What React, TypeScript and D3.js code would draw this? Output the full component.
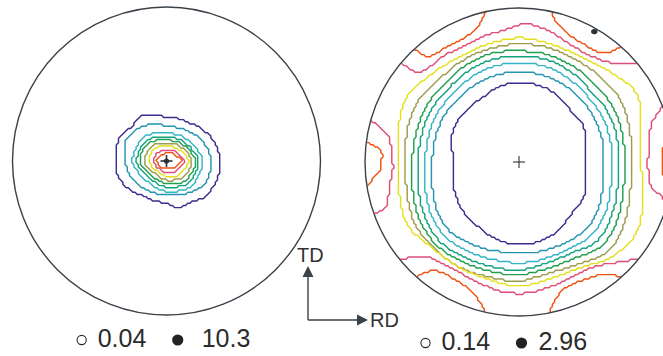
import React from "react";
import * as d3 from "d3";

// Contour level colours, lowest level first
const LEVEL_COLORS = [
  "#3d2b8e", // 1 purple
  "#2494b0", // 2 teal
  "#33b4c6", // 3 cyan
  "#12a27c", // 4 blue-green
  "#1f9f4d", // 5 green
  "#9c9b4e", // 6 olive
  "#e4e01c", // 7 yellow
  "#de4e78", // 8 pink
  "#ee5212", // 9 orange
];

// ---------- Pole figure 1: tilt (deg) of each closed contour at evenly spaced azimuths ----------
const f1Level1 = [31.6, 30.4, 29.2, 27.5, 26, 25.7, 25.4, 28, 30.2, 28.6, 30.4, 30.4, 29.5, 29.8, 28.3, 26, 24.3, 24.3, 24.7, 28.1, 27.8, 30.4, 31, 31.4];
const f1Level2 = [26, 24, 21, 20.7, 24, 26.6, 24, 22.5, 20.2, 19.9, 22.2, 26];
const f1Level3 = [21, 17.5, 16.4, 19.3, 19.9, 16.4, 17.8, 20.5];
const f1Level4 = [18.7, 15.2, 14, 16.4, 17.5, 14, 15.2, 18.1];
const f1Level5 = [16.9, 13.4, 12.3, 14.6, 15.8, 12.3, 13.1, 15.8];
const f1Level6 = [14.6, 11.7, 10.5, 12.3, 12.9, 9.9, 11.1, 13.4];
const f1Level7 = [12.9, 9.9, 8.5, 9.9, 9.9, 8.2, 8.8, 11.1];
const f1Level8 = [10.5, 7.6, 6.4, 7, 7.6, 6.4, 6.4, 8.2];
const f1Level9 = [8.8, 5.8, 4.4, 4.7, 5.8, 4.7, 4.4, 5.8];
const f1Closed = [f1Level1, f1Level2, f1Level3, f1Level4, f1Level5, f1Level6, f1Level7, f1Level8, f1Level9];
const f1Max: [number, number] = [0, 0]; // azimuth, tilt of the maximum
const f1Min = "0.04";
const f1Peak = "10.3";

// ---------- Pole figure 2 ----------
const f2Level1 = [38.6, 40.3, 43.2, 42.7, 45, 46.2, 46.2, 45.6, 43.2, 43.2, 43.2, 40.9, 38, 40.3, 42.1, 43.8, 45, 47.3, 47.9, 47.9, 46.2, 43.2, 43.2, 40.3];
const f2Level2 = [49.7, 50.3, 50.8, 51.4, 52, 52.6, 52.6, 52.6, 52, 51.4, 51.4, 50.8, 50.8, 52.6, 55.5, 57.3, 55.5, 53.8, 53.2, 53.8, 54.3, 55.5, 53.8, 50.8];
const f2Level3 = [54.3, 54.9, 55.5, 55.5, 56.7, 57.9, 57.9, 57.9, 56.7, 55.5, 55.5, 54.9, 54.9, 56.7, 59.6, 61.4, 60.2, 59, 59, 58.4, 58.4, 60.2, 58.4, 55.5];
const f2Level4 = [58.4, 59, 59.6, 59, 60.8, 61.9, 61.9, 61.9, 60.8, 59.6, 59.6, 59, 59, 60.8, 63.7, 65.5, 64.3, 63.1, 63.1, 61.4, 61.4, 64.9, 62.5, 59.6];
const f2Level5 = [61.9, 62.5, 63.7, 63.1, 64.3, 64.9, 64.9, 65.5, 64.3, 63.1, 63.1, 62.5, 62.5, 64.3, 67.2, 68.4, 67.2, 66, 66, 64.3, 64.9, 69, 66.6, 63.1];
const f2Level6 = [66, 67.2, 69.5, 69, 68.4, 69, 69, 68.4, 67.8, 67.2, 69, 67.8, 66.6, 67.8, 70.7, 70.7, 70.7, 69.5, 69.5, 67.2, 69, 73.6, 71.3, 67.2];
const f2Level7 = [71.3, 73.6, 79.5, 74.8, 71.3, 71.3, 72.5, 71.3, 70.7, 72.5, 76, 73, 70.7, 72.5, 74.8, 71.3, 70.7, 70.7, 72.5, 70.7, 71.3, 77.7, 80.1, 74.8];
const f2Closed = [f2Level1, f2Level2, f2Level3, f2Level4, f2Level5, f2Level6, f2Level7];

// Open contour branches ending on the rim: [azimuth deg, tilt deg]
const f2PinkTop = [[140, 91.2], [139.3, 81.5], [136.4, 77.1], [124.5, 76], [116.4, 74.8], [104.8, 76.6], [97, 77.5], [89.6, 80.1], [85.4, 80.9], [76.6, 78.3], [65.6, 74.8], [53.9, 75.4], [45.3, 81.2], [39.5, 91.2]];
const f2PinkLeft = [[164, 91.2], [166.7, 81.5], [170.3, 76.6], [179, 74.4], [182, 73.6], [189.4, 76.4], [194.9, 79], [198.6, 82.4], [200, 91.2]];
const f2PinkRight = [[22, 91.2], [19, 85.3], [17.4, 82.2], [13.7, 78.8], [5.3, 75.9], [-5, 75.9], [-10.5, 78.9], [-13.7, 85.8], [-17, 91.2]];
const f2PinkBottom = [[219, 91.2], [225, 78], [235, 74], [245, 73.5], [255, 75], [265, 76.6], [275, 76.6], [285, 75], [295, 74], [305, 75], [312, 80], [318, 86], [321, 91.2]];
const f2OrangeTopLeft = [[133, 91.2], [130.7, 81.2], [122, 79.5], [112.7, 79.4], [105.7, 84.2], [102, 91.2]];
const f2OrangeTopRight = [[78, 91.2], [75.8, 85.6], [73.1, 82.6], [64.7, 78.9], [52.2, 80.4], [48.4, 91.2]];
const f2OrangeLeft = [[172.5, 91.2], [175, 81.5], [179, 80.2], [183.3, 81.3], [186.4, 85.7], [190, 91.2]];
const f2OrangeRight = [[10, 91.2], [6, 84.7], [0, 83.6], [-5, 84.7], [-9, 91.2]];
const f2OrangeBottomLeft = [[228, 91.2], [231, 81.8], [237.5, 78.3], [249, 80.1], [254, 84.7], [258, 91.2]];
const f2OrangeBottomRight = [[281, 91.2], [285, 83], [291, 78.3], [302.8, 79.9], [308, 83], [312, 91.2]];
const f2Open = [
  { level: 8, pts: f2PinkTop },
  { level: 8, pts: f2PinkLeft },
  { level: 8, pts: f2PinkRight },
  { level: 8, pts: f2PinkBottom },
  { level: 9, pts: f2OrangeTopLeft },
  { level: 9, pts: f2OrangeTopRight },
  { level: 9, pts: f2OrangeLeft },
  { level: 9, pts: f2OrangeRight },
  { level: 9, pts: f2OrangeBottomLeft },
  { level: 9, pts: f2OrangeBottomRight },
];
const f2Max: [number, number] = [60, 88];
const f2Min = "0.14";
const f2Peak = "2.96";

const INK = "#3a4148";
const FONT = "'Liberation Sans', Arial, Helvetica, sans-serif";
const CELL = 2.2; // raster step of the contouring grid (px)

type Pt = [number, number];

// Uniform Catmull-Rom sampling of a polyline (closed or open)
function sampleSpline(pts: Pt[], closed: boolean, steps = 8): Pt[] {
  const n = pts.length;
  const out: Pt[] = [];
  const get = (i: number): Pt => {
    if (closed) return pts[((i % n) + n) % n];
    return pts[Math.max(0, Math.min(n - 1, i))];
  };
  const segs = closed ? n : n - 1;
  for (let i = 0; i < segs; i++) {
    const p0 = get(i - 1), p1 = get(i), p2 = get(i + 1), p3 = get(i + 2);
    for (let k = 0; k < steps; k++) {
      const t = k / steps, t2 = t * t, t3 = t2 * t;
      const f = (a: number, b: number, c: number, d: number) =>
        0.5 * (2 * b + (-a + c) * t + (2 * a - 5 * b + 4 * c - d) * t2 + (-a + 3 * b - 3 * c + d) * t3);
      out.push([f(p0[0], p1[0], p2[0], p3[0]), f(p0[1], p1[1], p2[1], p3[1])]);
    }
  }
  if (!closed) out.push(pts[n - 1]);
  return out;
}

// Rasterise a region onto the figure grid and trace its outline with d3.contours
function steppedOutline(poly: Pt[], gx0: number, gy0: number): string {
  const xs = poly.map((p) => p[0]);
  const ys = poly.map((p) => p[1]);
  const i0 = Math.floor((d3.min(xs)! - gx0) / CELL) - 2;
  const j0 = Math.floor((d3.min(ys)! - gy0) / CELL) - 2;
  const i1 = Math.ceil((d3.max(xs)! - gx0) / CELL) + 2;
  const j1 = Math.ceil((d3.max(ys)! - gy0) / CELL) + 2;
  const nx = i1 - i0, ny = j1 - j0;
  const values = new Array(nx * ny);
  for (let j = 0; j < ny; j++) {
    for (let i = 0; i < nx; i++) {
      const px = gx0 + (i0 + i + 0.5) * CELL;
      const py = gy0 + (j0 + j + 0.5) * CELL;
      values[j * nx + i] = d3.polygonContains(poly, [px, py]) ? 1 : 0;
    }
  }
  const [c] = d3.contours().size([nx, ny]).smooth(false).thresholds([0.5])(values);
  const proj = d3.geoIdentity().scale(CELL).translate([gx0 + i0 * CELL, gy0 + j0 * CELL]);
  return d3.geoPath(proj)(c as any) || "";
}

type Fig = {
  id: string;
  cx: number;
  cy: number;
  R: number;
  closed: number[][];
  open: { level: number; pts: number[][] }[];
  max: [number, number];
  maxAtCentre: boolean;
};

function PoleFigure({ id, cx, cy, R, closed, open, max, maxAtCentre }: Fig) {
  const radial = d3.scaleLinear().domain([0, 90]).range([0, R]);
  const toXY = (az: number, tilt: number): Pt => {
    const a = (az * Math.PI) / 180;
    return [radial(tilt) * Math.cos(a), -radial(tilt) * Math.sin(a)];
  };
  // grid anchored at the figure's upper-left corner (local coordinates)
  const gx0 = -R - 4, gy0 = -R - 4;

  const closedPaths = closed.map((tilts) => {
    const pts = tilts.map((t, k) => toXY((k * 360) / tilts.length, t));
    return steppedOutline(sampleSpline(pts, true), gx0, gy0);
  });

  const openPaths = open.map((o) => {
    const arc = sampleSpline(o.pts.map((p) => toXY(p[0], p[1])), false);
    // close the lobe outside the rim so only the inner branch stays visible
    const a0 = o.pts[0][0], a1 = o.pts[o.pts.length - 1][0];
    const outer: Pt[] = d3.range(0, 11).map((k) => toXY(a1 + ((a0 - a1) * k) / 10, 112));
    return steppedOutline([...arc, ...outer], gx0, gy0);
  });

  const [mx, my] = toXY(max[0], max[1]);

  return (
    <g transform={`translate(${cx},${cy})`}>
      <defs>
        <clipPath id={`clip-${id}`}>
          <circle r={R - 0.5} />
        </clipPath>
      </defs>
      <g clipPath={`url(#clip-${id})`} fill="none" strokeWidth={1.45} strokeLinejoin="round">
        {closedPaths.map((d, i) => (
          <path key={`c${i}`} d={d} stroke={LEVEL_COLORS[i]} />
        ))}
        {openPaths.map((d, i) => (
          <path key={`o${i}`} d={d} stroke={LEVEL_COLORS[open[i].level - 1]} />
        ))}
      </g>
      <circle r={R} fill="none" stroke={INK} strokeWidth={1.4} />
      {maxAtCentre ? (
        <g stroke="#2c3338" strokeWidth={1.6}>
          <line x1={-6} x2={6} y1={0} y2={0} />
          <line x1={0} x2={0} y1={-6} y2={6} />
          <circle r={2.6} fill="#2c3338" stroke="none" />
        </g>
      ) : (
        <g>
          <g stroke="#2c3338" strokeWidth={1.1}>
            <line x1={-6} x2={6} y1={0} y2={0} />
            <line x1={0} x2={0} y1={-6} y2={6} />
          </g>
          <ellipse cx={mx} cy={my} rx={3.2} ry={2.6} fill="#2c3338" />
        </g>
      )}
    </g>
  );
}

function Legend({ x, y, minText, maxText, gap1, gap2 }: { x: number; y: number; minText: string; maxText: string; gap1: number; gap2: number }) {
  return (
    <g fontFamily={FONT} fontSize={25} fill="#2b2b2b">
      <circle cx={x} cy={y - 7} r={4.6} fill="none" stroke="#2b2b2b" strokeWidth={1.1} />
      <text x={x + 16} y={y}>{minText}</text>
      <circle cx={x + gap1} cy={y - 7} r={5.6} fill="#222" />
      <text x={x + gap1 + gap2} y={y}>{maxText}</text>
    </g>
  );
}

export default function App() {
  const W = 663;
  const H = 356;
  const ax = { x: 308, y: 320, len: 60 };
  return (
    <svg width={W} height={H} style={{ position: "absolute", left: 0, top: 0, background: "#fff" }}>
      <PoleFigure id="f1" cx={166.5} cy={161} R={154} closed={f1Closed} open={[]} max={f1Max} maxAtCentre />
      <PoleFigure id="f2" cx={519} cy={162} R={154} closed={f2Closed} open={f2Open} max={f2Max} maxAtCentre={false} />

      {/* sample axes */}
      <g stroke={INK} strokeWidth={1.4} fill={INK}>
        <line x1={ax.x} y1={ax.y} x2={ax.x} y2={ax.y - ax.len + 10} />
        <line x1={ax.x} y1={ax.y} x2={ax.x + ax.len - 10} y2={ax.y} />
        <path d={`M${ax.x},${ax.y - ax.len + 6} l-5.5,11 l11,0 z`} stroke="none" />
        <path d={`M${ax.x + ax.len},${ax.y} l-11,-5.5 l0,11 z`} stroke="none" />
      </g>
      <g fontFamily={FONT} fontSize={20} fill="#333">
        <text x={297} y={262}>TD</text>
        <text x={370} y={327}>RD</text>
      </g>

      <Legend x={81.7} y={347} minText={f1Min} maxText={f1Peak} gap1={96} gap2={24} />
      <Legend x={425.5} y={350} minText={f2Min} maxText={f2Peak} gap1={96} gap2={17} />
    </svg>
  );
}
